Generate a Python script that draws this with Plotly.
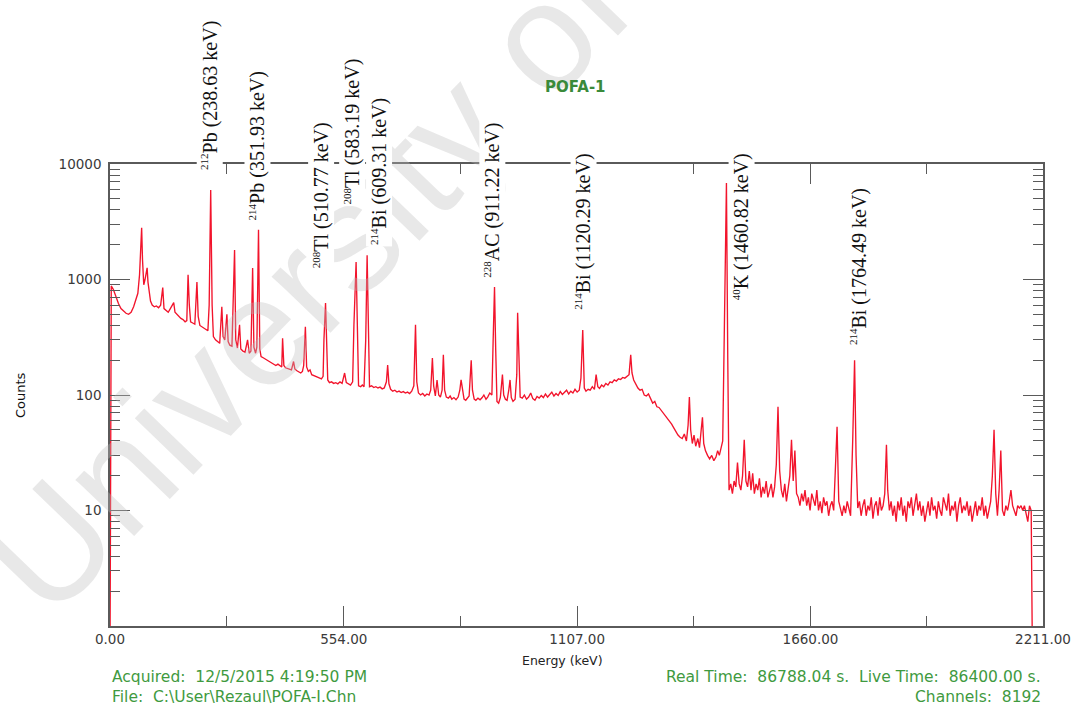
import plotly.graph_objects as go

# Gamma-ray spectrum of sample POFA-1: (energy keV, counts) read per segment
seg_low = [
    (0, 0.5), (3, 880), (8, 820), (14, 700), (20, 620), (26, 560), (32, 530), (38, 510),
    (44, 500), (50, 520), (56, 580), (62, 680), (66, 760), (70, 1100), (73, 2000), (75, 2800),
    (77, 1500), (80, 900), (83, 1000), (86, 1200), (88, 1260), (90, 950), (93, 760), (96, 650),
    (100, 600), (105, 580), (110, 590), (115, 570), (120, 600), (125, 850), (128, 560),
    (133, 540), (138, 520), (143, 560), (148, 600), (151, 630), (154, 520), (158, 500),
    (163, 480), (168, 460), (173, 450), (178, 430), (182, 440), (185, 1100), (188, 600),
    (191, 430), (196, 420), (201, 410), (206, 950), (209, 480), (213, 400), (218, 390),
    (223, 380), (228, 370), (232, 360), (235, 600), (238.63, 5960), (242, 600), (245, 320),
    (250, 300), (255, 290), (260, 280), (265, 580), (268, 320), (272, 300), (277, 500),
    (280, 290), (284, 270), (289, 265), (295.2, 1800), (298, 300), (302, 255), (307, 405),
    (310, 250), (315, 240), (320, 235), (326, 300), (330, 230), (334, 240), (338, 1260),
    (341, 260), (345, 230), (348, 260), (351.93, 2690), (355, 250), (358, 215), (363, 210),
    (368, 205), (373, 200), (378, 195), (383, 190), (388, 185), (393, 180), (398, 185),
    (403, 180), (407, 175), (409, 310), (412, 180), (416, 172), (420, 170), (425, 168),
    (430, 165), (435, 195), (438, 168), (443, 162), (448, 158), (452, 155), (456, 160),
    (459, 180), (463, 390), (466, 175), (470, 160), (474, 165), (478, 150), (483, 148),
    (488, 145), (493, 142), (497, 140), (501, 138), (505, 145), (507, 300), (510.77, 626),
    (513, 280), (516, 135), (520, 128), (525, 130), (530, 126), (535, 128), (540, 125),
    (545, 130), (550, 126), (556, 155), (560, 128), (565, 125), (570, 122), (575, 130),
    (578, 400), (583.19, 1420), (586, 300), (589, 120), (594, 118), (598, 122), (602, 118),
    (606, 300), (609.31, 1620), (612, 300), (615, 118), (620, 120), (625, 116), (630, 118),
]

seg_mid = [
    (635, 115), (640, 117), (645, 113), (650, 115), (655, 130), (658, 182), (661, 125),
    (665, 112), (670, 108), (675, 110), (680, 106), (685, 108), (690, 105), (695, 107),
    (700, 104), (705, 106), (710, 103), (715, 108), (720, 120), (724, 405), (727, 130),
    (731, 104), (736, 100), (741, 103), (746, 98), (751, 102), (756, 100), (760, 110),
    (764, 209), (767, 120), (771, 98), (775, 135), (779, 100), (783, 96), (787, 110),
    (790, 223), (793, 110), (797, 96), (802, 94), (806, 98), (810, 92), (815, 95), (820, 91),
    (825, 96), (829, 110), (832, 135), (835, 115), (839, 92), (843, 90), (847, 93), (851, 98),
    (856, 200), (859, 110), (863, 92), (867, 90), (872, 94), (877, 91), (882, 95), (886, 100),
    (891, 92), (895, 96), (900, 104), (905, 100), (908, 300), (911.22, 860), (914, 250),
    (917, 88), (921, 85), (925, 95), (930, 150), (933, 100), (937, 92), (941, 90), (945, 110),
    (948, 135), (951, 95), (955, 88), (960, 92), (964, 150), (966, 514), (969, 200), (972, 96),
    (977, 94), (982, 100), (987, 92), (992, 96), (997, 104), (1002, 93), (1007, 90),
    (1012, 97), (1017, 94), (1022, 99), (1027, 95), (1032, 102), (1037, 96), (1042, 100),
    (1047, 106), (1052, 98), (1057, 103), (1062, 99), (1067, 107), (1072, 101), (1077, 105),
    (1082, 110), (1087, 102), (1092, 108), (1097, 104), (1102, 112), (1107, 106), (1112, 110),
    (1116, 140), (1120.29, 365), (1124, 115), (1128, 108), (1133, 112), (1138, 110),
    (1143, 118), (1148, 112), (1152, 150), (1156, 118), (1160, 114), (1165, 122), (1170, 118),
    (1175, 126), (1180, 122), (1185, 130), (1190, 128), (1195, 135), (1200, 132), (1205, 138),
    (1210, 136), (1215, 142), (1220, 140), (1225, 146), (1230, 150), (1234, 223), (1237, 155),
    (1241, 135), (1246, 125), (1251, 115), (1256, 110), (1261, 112), (1266, 100), (1271, 98),
    (1276, 102), (1281, 92), (1286, 85), (1291, 88), (1296, 79), (1301, 78), (1306, 74),
    (1311, 70), (1316, 66), (1321, 62), (1326, 60), (1331, 56), (1336, 52), (1341, 48),
    (1346, 45), (1351, 43), (1356, 42), (1361, 46), (1366, 40), (1370, 55), (1373, 96),
    (1376, 50), (1380, 38), (1384, 45), (1388, 36), (1393, 42), (1397, 35), (1401, 50),
    (1404, 64), (1407, 38), (1411, 33), (1416, 30), (1421, 28), (1426, 30), (1431, 27),
    (1436, 29), (1440, 33), (1444, 30), (1448, 35), (1452, 40), (1456, 400), (1460.82, 6840),
    (1464, 200),
]

seg_high = [
    (1467, 15), (1471, 17), (1475, 14), (1479, 18), (1483, 16), (1487, 26), (1491, 17),
    (1495, 15), (1499, 20), (1503, 41), (1507, 18), (1511, 16), (1515, 22), (1519, 15),
    (1523, 21), (1527, 14), (1531, 17), (1535, 15), (1539, 19), (1543, 13), (1547, 16),
    (1551, 14), (1555, 18), (1559, 13), (1563, 15), (1567, 17), (1571, 13), (1575, 16),
    (1579, 25), (1583, 79), (1587, 22), (1591, 15), (1595, 13), (1599, 17), (1603, 12),
    (1607, 16), (1611, 20), (1615, 41), (1619, 18), (1623, 33), (1627, 14), (1631, 13),
    (1635, 11), (1639, 14), (1643, 12), (1647, 15), (1651, 11), (1655, 13), (1659, 10),
    (1663, 14), (1667, 12), (1671, 11), (1675, 15), (1679, 10), (1683, 12), (1687, 9.5),
    (1691, 13), (1695, 11), (1699, 12), (1703, 9), (1707, 11), (1711, 12), (1715, 10),
    (1719, 20), (1723, 53), (1727, 12), (1731, 10), (1735, 9), (1739, 11), (1743, 9.5),
    (1747, 12), (1751, 10), (1755, 9), (1760, 40), (1764.49, 200), (1768, 30), (1772, 10.5),
    (1776, 12), (1780, 9), (1784, 11), (1788, 12.5), (1792, 9), (1796, 11), (1800, 10),
    (1804, 13), (1808, 8.5), (1812, 11), (1816, 12), (1820, 9), (1824, 13), (1828, 10),
    (1832, 11), (1836, 14), (1840, 37), (1843, 15), (1847, 10), (1851, 12), (1855, 9),
    (1859, 11), (1863, 8), (1867, 12), (1871, 10), (1875, 13), (1879, 9), (1883, 11),
    (1887, 8), (1891, 12), (1895, 10.5), (1899, 13), (1903, 9), (1907, 11), (1911, 14),
    (1915, 10), (1919, 12), (1923, 9), (1927, 11), (1931, 8), (1935, 10), (1939, 12),
    (1943, 9), (1947, 13), (1951, 10), (1955, 11), (1959, 8.5), (1963, 12), (1967, 10),
    (1971, 9), (1975, 13), (1979, 11), (1983, 10), (1987, 14), (1991, 9), (1995, 11),
    (1999, 10), (2003, 12), (2007, 8), (2011, 11), (2015, 13), (2019, 9.5), (2023, 11),
    (2027, 10), (2031, 12), (2035, 9), (2039, 11), (2043, 8), (2047, 10), (2051, 12),
    (2055, 9), (2059, 11), (2063, 10), (2067, 13), (2071, 9), (2075, 11), (2079, 8.5),
    (2083, 10), (2087, 12), (2091, 20), (2095, 50), (2099, 14), (2103, 9), (2107, 15),
    (2111, 33), (2115, 10), (2119, 9), (2123, 11), (2127, 10), (2131, 12), (2135, 15),
    (2139, 11), (2143, 10), (2147, 9), (2151, 11), (2155, 10.5), (2159, 11), (2163, 10),
    (2167, 11), (2171, 9), (2175, 8), (2179, 11), (2183, 10), (2186, 0.5),
]

# Identified photopeaks: (mass number, element, energy keV)
peak_mass = ["212", "214", "208", "208", "214", "228", "214", "40", "214"]
peak_element = ["Pb", "Pb", "Tl", "Tl", "Bi", "AC", "Bi", "K", "Bi"]
peak_energy_text = ["238.63", "351.93", "510.77", "583.19", "609.31", "911.22",
                    "1120.29", "1460.82", "1764.49"]

x_tick_values = [0, 554, 1107, 1660, 2211]
x_tick_labels = ["0.00", "554.00", "1107.00", "1660.00", "2211.00"]
x_minor_values = [277, 830.5, 1383.5, 1935.5]
y_tick_values = [10, 100, 1000, 10000]
y_tick_labels = ["10", "100", "1000", "10000"]

points = seg_low + seg_mid + seg_high
energy = [p[0] for p in points]
counts = [p[1] for p in points]

y_minor_values = [m * 10 ** k for k in range(4) for m in range(2, 10)]

# label placement along the axis (keV) and the paper height of each label's lower end
label_x = [236, 350, 501, 575, 638, 906, 1123, 1497, 1774]
label_y = [0.983, 0.874, 0.771, 0.907, 0.820, 0.749, 0.680, 0.701, 0.604]

AXIS = "#5a5a5a"
GREEN = "#3f9a3f"
SANS = "DejaVu Sans, Verdana, sans-serif"


def px_x(px):
    return (px - 110) / 933


def px_y(py):
    return (626 - py) / 462


fig = go.Figure()
fig.add_trace(go.Scatter(
    x=energy, y=counts, mode="lines",
    line=dict(color="#f2142c", width=1.35),
    hoverinfo="skip", showlegend=False,
))

axis_common = dict(
    showgrid=False, zeroline=False, showline=True, linecolor=AXIS, linewidth=1.5,
    ticks="inside", tickcolor=AXIS, tickwidth=1.3, ticklen=20, mirror="allticks",
    tickfont=dict(family=SANS, size=13.5, color="#3a3a3a"),
)

fig.update_xaxes(
    range=[0, 2211], tickmode="array", tickvals=x_tick_values, ticktext=x_tick_labels,
    minor=dict(tickmode="array", tickvals=x_minor_values, ticks="inside", ticklen=10,
               tickcolor=AXIS, tickwidth=1.3),
    **axis_common,
)
fig.update_yaxes(
    type="log", range=[0, 4], tickmode="array", tickvals=y_tick_values, ticktext=y_tick_labels,
    minor=dict(tickmode="array", tickvals=y_minor_values, ticks="inside", ticklen=10,
               tickcolor=AXIS, tickwidth=1.3),
    ticklabelstandoff=4,
    **axis_common,
)

annotations = []

# faint diagonal watermark
annotations.append(dict(
    text="University of", xref="paper", yref="paper", x=px_x(306), y=px_y(282),
    xanchor="center", yanchor="middle", showarrow=False, textangle=-46,
    font=dict(family="Liberation Sans, Arial", size=154, color="rgba(190,190,190,0.35)"),
))

for mass, elem, etxt, lx, ly in zip(peak_mass, peak_element, peak_energy_text, label_x, label_y):
    annotations.append(dict(
        text=f'<sup><span style="font-size:11px">{mass}</span></sup>{elem} ({etxt} keV)',
        x=lx, xref="x", y=ly, yref="paper", xanchor="center", yanchor="bottom",
        textangle=-90, showarrow=False, bgcolor="white", borderpad=1,
        font=dict(family="Liberation Serif, Times New Roman", size=20, color="#111111"),
    ))

annotations.append(dict(
    text="<b>POFA-1</b>", xref="paper", yref="paper", x=px_x(575), y=px_y(87),
    showarrow=False, xanchor="center", yanchor="middle",
    font=dict(family=SANS, size=15, color="#3a8a3a"),
))

# axis titles
annotations.append(dict(
    text="Counts", xref="paper", yref="paper", x=px_x(20), y=px_y(395),
    showarrow=False, textangle=-90, xanchor="center", yanchor="middle",
    font=dict(family=SANS, size=13, color="#111111"),
))
annotations.append(dict(
    text="Energy (keV)", xref="paper", yref="paper", x=px_x(562), y=px_y(660),
    showarrow=False, xanchor="center", yanchor="middle",
    font=dict(family=SANS, size=12.5, color="#222222"),
))

# acquisition details
footer_font = dict(family=SANS, size=15.5, color=GREEN)
annotations += [
    dict(text="Acquired:  12/5/2015 4:19:50 PM", xref="paper", yref="paper",
         x=0, y=px_y(677), xanchor="left", yanchor="middle", showarrow=False,
         font=footer_font),
    dict(text="File:  C:\\User\\Rezaul\\POFA-I.Chn", xref="paper", yref="paper",
         x=0, y=px_y(697), xanchor="left", yanchor="middle", showarrow=False,
         font=footer_font),
    dict(text="Real Time:  86788.04 s.  Live Time:  86400.00 s.", xref="paper", yref="paper",
         x=1, y=px_y(677), xanchor="right", yanchor="middle", showarrow=False,
         font=footer_font),
    dict(text="Channels:  8192", xref="paper", yref="paper",
         x=1, y=px_y(697), xanchor="right", yanchor="middle", showarrow=False,
         font=footer_font),
]

fig.update_layout(
    width=1085, height=713,
    margin=dict(l=110, r=42, t=164, b=87),
    paper_bgcolor="white", plot_bgcolor="white",
    annotations=annotations,
)

fig.write_html("out.html")
